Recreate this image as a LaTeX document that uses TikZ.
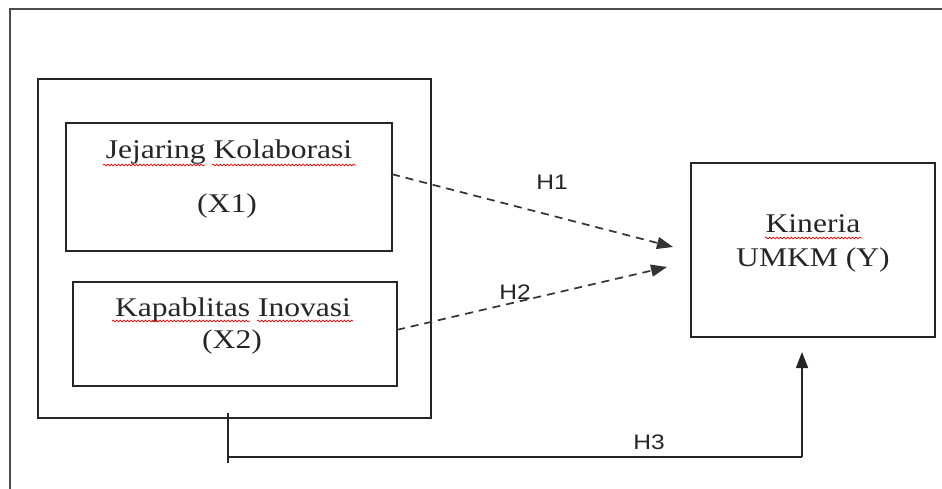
\documentclass[tikz,border=0pt]{standalone}
\usepackage{fontspec}
\setmainfont{Liberation Serif}
\newfontfamily\hfont{Liberation Sans}
\usetikzlibrary{arrows.meta,decorations.pathmorphing,calc}
\tikzset{
  box/.style={draw=black!85, line width=1.6pt, rectangle, inner sep=0pt, outer sep=0pt},
  frameline/.style={draw=black!70, line width=1.6pt},
  txt/.style={anchor=base, inner sep=0pt, text=black!85, font=\fontsize{27}{31}\selectfont},
  hlab/.style={inner sep=0pt, text=black!85, font=\hfont\fontsize{21}{24}\selectfont},
  dasharrow/.style={draw=black!80, line width=1.7pt, dash pattern=on 8pt off 6pt, -{Triangle[length=16pt,width=12pt]}},
  solidline/.style={draw=black!85, line width=1.6pt},
  solidarrow/.style={draw=black!85, line width=1.6pt, -{Triangle[length=16pt,width=12pt]}},
  squig/.style={draw=red, line width=0.7pt, decorate, decoration={snake, segment length=3.6pt, amplitude=0.9pt}}
}
\newcommand{\widetxt}[1]{\scalebox{1.17}[1]{#1}}
\begin{document}
\begin{tikzpicture}[x=1pt,y=-1pt]
\useasboundingbox (0,0) rectangle (942,489);
% outer frame (only top and left visible)
\coordinate (fbl) at (10,489);
\coordinate (ftl) at (10,9);
\coordinate (ftr) at (942,9);
\draw[frameline] (fbl) -- (ftl) -- (ftr);
% boxes
\node[box, minimum width=393pt, minimum height=339pt] (grp) at (234.5,248.5) {};
\node[box, minimum width=326pt, minimum height=128pt] (X1) at (229,187) {};
\node[box, minimum width=324pt, minimum height=104pt] (X2) at (235,334) {};
\node[box, minimum width=244pt, minimum height=174pt] (Y) at (813,250) {};
% texts
\node[txt] (t1a) at (229,159) {\widetxt{Jejaring Kolaborasi}};
\node[txt] (t1b) at (227,212) {\widetxt{(X1)}};
\node[txt] (t2a) at (233,316) {\widetxt{Kapablitas Inovasi}};
\node[txt] (t2b) at (232,348) {\widetxt{(X2)}};
\node[txt] (t3a) at (813,233) {\widetxt{Kineria}};
\node[txt] (t3b) at (813,266) {\widetxt{UMKM (Y)}};
% spell-check underlines
\draw[squig] (103,165) -- (205,165);
\draw[squig] (212,165) -- (356,165);
\draw[squig] (112,321) -- (250,321);
\draw[squig] (257,321) -- (353,321);
\draw[squig] (765,238) -- (862,238);
% connectors
\coordinate (h1s) at ($(X1.north east)!0.4!(X1.south east)$);
\coordinate (h1e) at (673,247);
\coordinate (h2s) at ($(X2.north east)!0.46!(X2.south east)$);
\coordinate (h2e) at (667,267);
\draw[dasharrow] (h1s) -- (h1e);
\draw[dasharrow] (h2s) -- (h2e);
\coordinate (h3a) at (228,413);
\coordinate (h3b) at (228,463);
\coordinate (h3c) at (228,457);
\coordinate (h3d) at (802,457);
\coordinate (h3e) at (802,352);
\draw[solidline] (h3a) -- (h3b);
\draw[solidline] (h3c) -- (h3d);
\draw[solidarrow] (h3d) -- (h3e);
% labels
\node[hlab] (H1) at (552,182) {\widetxt{H1}};
\node[hlab] (H2) at (515,292) {\widetxt{H2}};
\node[hlab] (H3) at (649,442) {\widetxt{H3}};
\end{tikzpicture}
\end{document}
